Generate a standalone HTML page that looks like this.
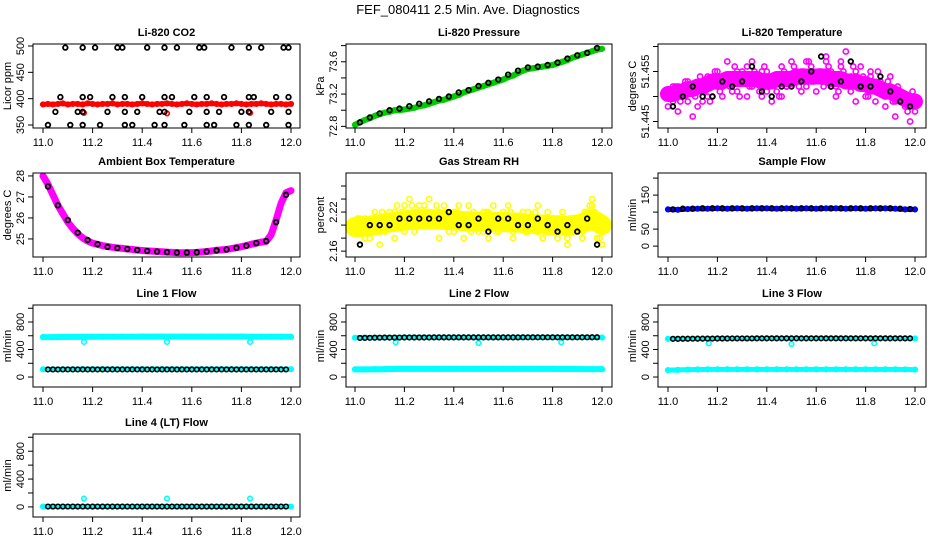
<!DOCTYPE html>
<html><head><meta charset="utf-8">
<style>
html,body{margin:0;padding:0;background:#fff;}
svg{display:block;font-family:"Liberation Sans",Arial,sans-serif;}
</style></head>
<body>
<svg id="chart" width="936" height="540" viewBox="0 0 936 540" xmlns="http://www.w3.org/2000/svg">
<text x="468" y="14" text-anchor="middle" font-size="13">FEF_080411  2.5 Min. Ave. Diagnostics</text>
</svg>
<script>
// ---- data ----
const tColor=[11.00,11.02,11.04,11.06,11.08,11.10,11.12,11.14,11.16,11.18,11.20,11.22,11.24,11.26,11.28,11.30,11.32,11.34,11.36,11.38,11.40,11.42,11.44,11.46,11.48,11.50,11.52,11.54,11.56,11.58,11.60,11.62,11.64,11.66,11.68,11.70,11.72,11.74,11.76,11.78,11.80,11.82,11.84,11.86,11.88,11.90,11.92,11.94,11.96,11.98,12.00];
const tColor2=[11.01,11.03,11.05,11.07,11.09,11.11,11.13,11.15,11.17,11.19,11.21,11.23,11.25,11.27,11.29,11.31,11.33,11.35,11.37,11.39,11.41,11.43,11.45,11.47,11.49,11.51,11.53,11.55,11.57,11.59,11.61,11.63,11.65,11.67,11.69,11.71,11.73,11.75,11.77,11.79,11.81,11.83,11.85,11.87,11.89,11.91,11.93,11.95,11.97,11.99];
const tBlack=[11.02,11.06,11.10,11.14,11.18,11.22,11.26,11.30,11.34,11.38,11.42,11.46,11.50,11.54,11.58,11.62,11.66,11.70,11.74,11.78,11.82,11.86,11.90,11.94,11.98];
const tFlow=[11.00,11.04,11.08,11.12,11.16,11.20,11.24,11.28,11.32,11.36,11.40,11.44,11.48,11.52,11.56,11.60,11.64,11.68,11.72,11.76,11.80,11.84,11.88,11.92,11.96,12.00];
const tFlowBlack=[11.02,11.04,11.06,11.08,11.10,11.12,11.14,11.16,11.18,11.20,11.22,11.24,11.26,11.28,11.30,11.32,11.34,11.36,11.38,11.40,11.42,11.44,11.46,11.48,11.50,11.52,11.54,11.56,11.58,11.60,11.62,11.64,11.66,11.68,11.70,11.72,11.74,11.76,11.78,11.80,11.82,11.84,11.86,11.88,11.90,11.92,11.94,11.96,11.98];
const tOut=[11.165,11.50,11.835];

const co2Red=[389,390,389,390,391,389,390,390,389,391,390,389,390,390,391,389,390,390,389,390,391,390,389,390,390,391,390,389,390,391,390,389,390,390,391,390,389,390,390,391,390,389,390,390,391,390,389,390,390,389,390];
const co2RedOut=[373,372,373];
const co2BlackT=[11.09,11.16,11.21,11.30,11.32,11.42,11.49,11.54,11.63,11.65,11.76,11.83,11.88,11.97,11.99,
11.07,11.16,11.19,11.28,11.33,11.40,11.49,11.52,11.61,11.66,11.73,11.83,11.85,11.94,11.99,
11.05,11.14,11.16,11.26,11.33,11.38,11.47,11.49,11.59,11.66,11.71,11.80,11.83,11.92,11.99,
11.02,11.11,11.16,11.23,11.33,11.36,11.45,11.49,11.57,11.66,11.69,11.78,11.83,11.90,11.99];
const co2BlackV=[497,497,497,497,497,497,497,497,497,497,497,497,497,497,497,
403,403,403,403,403,403,403,403,403,403,403,403,403,403,403,
375,375,375,375,375,375,375,375,375,375,375,375,375,375,375,
350,350,350,350,350,350,350,350,350,350,350,350,350,350,350];

const presGreen=[72.82,72.85,72.88,72.90,72.93,72.95,72.97,72.98,73.00,73.00,73.01,73.02,73.03,73.05,73.06,73.08,73.10,73.12,73.13,73.15,73.17,73.19,73.22,73.24,73.26,73.28,73.30,73.32,73.34,73.36,73.38,73.41,73.43,73.46,73.49,73.51,73.52,73.53,73.54,73.55,73.56,73.58,73.60,73.62,73.65,73.67,73.69,73.71,73.73,73.75,73.76];
const presBlack=[72.85,72.91,72.96,73.00,73.02,73.05,73.08,73.11,73.14,73.17,73.22,73.25,73.30,73.34,73.38,73.44,73.49,73.53,73.54,73.56,73.59,73.64,73.68,73.71,73.77];

const tempMean=[51.4505,51.4505,51.451,51.451,51.4515,51.4515,51.452,51.452,51.4525,51.453,51.453,51.453,51.4535,51.4535,51.4535,51.4535,51.4535,51.4535,51.4535,51.453,51.453,51.453,51.4535,51.4535,51.4535,51.4535,51.454,51.454,51.454,51.454,51.454,51.454,51.454,51.4535,51.4535,51.4535,51.453,51.453,51.453,51.4525,51.4525,51.452,51.452,51.4515,51.451,51.451,51.4505,51.450,51.4495,51.449,51.449];
const tempA=[51.451,51.449,51.452,51.450,51.453,51.451,51.448,51.452,51.450,51.453,51.455,51.452,51.454,51.451,51.455,51.453,51.456,51.452,51.454,51.450,51.455,51.453,51.451,51.456,51.452,51.454,51.453,51.455,51.452,51.456,51.454,51.453,51.457,51.455,51.452,51.456,51.454,51.451,51.455,51.453,51.452,51.454,51.451,51.453,51.450,51.452,51.449,51.451,51.448,51.450,51.447];
const tempB=[51.448,51.452,51.447,51.451,51.449,51.446,51.451,51.449,51.454,51.450,51.452,51.450,51.457,51.453,51.451,51.455,51.450,51.457,51.453,51.455,51.451,51.449,51.454,51.450,51.452,51.457,51.455,51.451,51.457,51.453,51.451,51.455,51.458,51.452,51.450,51.457,51.459,51.454,51.449,51.456,51.450,51.455,51.449,51.452,51.448,51.454,51.446,51.451,51.450,51.445,51.449];
const tempC=[51.450,51.452,51.449,51.453,51.451,51.450,51.454,51.452,51.449,51.455,51.451,51.454,51.452,51.456,51.450,51.454,51.452,51.455,51.451,51.456,51.452,51.454,51.450,51.455,51.453,51.456,51.452,51.455,51.457,51.453,51.455,51.452,51.456,51.454,51.451,51.455,51.453,51.456,51.452,51.454,51.450,51.453,51.455,51.451,51.453,51.449,51.452,51.450,51.447,51.451];
const tempBlack=[51.448,51.450,51.452,51.450,51.450,51.453,51.452,51.453,51.456,51.451,51.450,51.452,51.452,51.453,51.455,51.458,51.452,51.453,51.457,51.452,51.452,51.454,51.451,51.449,51.448];

const ambMag=[28.0,27.6,27.1,26.6,26.2,25.8,25.5,25.25,25.05,24.9,24.8,24.74,24.68,24.64,24.6,24.57,24.55,24.52,24.5,24.47,24.45,24.43,24.42,24.4,24.39,24.37,24.36,24.35,24.34,24.35,24.35,24.36,24.38,24.4,24.43,24.46,24.48,24.5,24.54,24.58,24.63,24.68,24.75,24.8,24.85,24.88,25.2,25.9,26.7,27.2,27.3];
const ambBlack=[27.5,26.6,25.9,25.3,24.95,24.75,24.62,24.57,24.52,24.47,24.43,24.40,24.37,24.35,24.35,24.36,24.40,24.45,24.50,24.58,24.68,24.80,24.90,25.80,27.10];

const rhMean=[2.197,2.197,2.198,2.199,2.200,2.201,2.203,2.204,2.205,2.206,2.207,2.208,2.208,2.209,2.209,2.209,2.209,2.209,2.208,2.208,2.207,2.207,2.206,2.206,2.205,2.205,2.205,2.205,2.205,2.205,2.205,2.204,2.204,2.204,2.203,2.202,2.202,2.201,2.201,2.200,2.200,2.199,2.199,2.199,2.200,2.201,2.203,2.206,2.208,2.205,2.200];
const rhA=[2.20,2.19,2.21,2.18,2.20,2.19,2.21,2.20,2.22,2.21,2.23,2.20,2.22,2.21,2.23,2.22,2.20,2.22,2.21,2.19,2.22,2.20,2.21,2.23,2.20,2.21,2.19,2.22,2.20,2.21,2.22,2.20,2.19,2.21,2.20,2.22,2.20,2.19,2.21,2.20,2.19,2.21,2.20,2.18,2.20,2.21,2.19,2.22,2.23,2.20,2.19];
const rhB=[2.19,2.21,2.18,2.20,2.22,2.17,2.19,2.22,2.18,2.20,2.19,2.24,2.19,2.23,2.20,2.24,2.21,2.18,2.23,2.22,2.19,2.23,2.18,2.21,2.22,2.19,2.22,2.18,2.23,2.19,2.20,2.23,2.18,2.20,2.22,2.19,2.21,2.23,2.18,2.22,2.21,2.18,2.22,2.17,2.19,2.21,2.18,2.21,2.24,2.18,2.17];
const rhC=[2.21,2.20,2.19,2.21,2.20,2.22,2.20,2.21,2.23,2.22,2.21,2.23,2.22,2.20,2.22,2.21,2.23,2.20,2.22,2.21,2.22,2.20,2.21,2.19,2.21,2.20,2.22,2.21,2.19,2.21,2.20,2.22,2.21,2.20,2.19,2.21,2.22,2.20,2.21,2.19,2.20,2.21,2.19,2.20,2.21,2.20,2.22,2.23,2.22,2.18];
const rhBlack=[2.17,2.20,2.20,2.20,2.21,2.21,2.21,2.21,2.21,2.22,2.20,2.20,2.21,2.19,2.21,2.21,2.20,2.20,2.21,2.20,2.19,2.20,2.19,2.21,2.17];

const sampBlue=[108,107,109,110,110,111,110,111,110,111,111,110,111,110,111,110,111,111,110,111,110,111,111,110,108,108];
const sampBlack=[108,110,110,111,111,111,111,111,111,111,111,111,111,111,111,111,111,111,111,111,111,111,111,110,109];

const l1High=[580,580,582,583,584,585,585,586,586,586,587,587,587,587,587,587,587,587,587,587,587,586,586,586,585,585];
const l1Low=[112,112,113,114,115,116,116,116,116,116,116,116,116,116,116,116,116,116,116,116,116,116,115,115,114,114];
const l1Black=[110,110,110,110,110,110,110,110,110,110,110,110,110,110,110,110,110,110,110,110,110,110,110,110,110,110,110,110,110,110,110,110,110,110,110,110,110,110,110,110,110,110,110,110,110,110,110,110,110];
const l1Out=[510,510,510];

const l2High=[572,572,573,574,575,576,576,576,577,577,577,577,577,577,577,577,577,577,577,577,577,577,576,576,575,575];
const l2Low=[112,112,113,114,116,118,118,118,118,118,118,118,118,118,118,118,118,118,118,118,118,117,116,115,114,114];
const l2Black=[568,569,570,571,572,573,573,574,574,575,575,575,575,575,575,576,576,576,576,576,576,576,576,576,576,576,576,576,576,576,576,576,576,577,577,577,577,577,577,577,577,577,577,577,577,577,577,578,578];
const l2Out=[505,495,505];

const l3High=[555,556,557,558,559,560,560,561,561,561,562,562,562,562,562,562,562,562,562,562,562,562,562,561,561,560];
const l3Low=[100,104,108,110,111,112,112,112,112,112,112,112,112,112,112,112,112,112,112,112,112,112,112,112,110,108];
const l3Black=[555,555,556,556,557,558,558,559,559,560,560,560,561,561,561,561,561,562,562,562,562,562,562,562,562,562,562,562,562,562,562,562,562,562,562,562,562,562,562,562,562,562,562,562,562,562,562,562,562];
const l3Out=[490,480,490];

const l4Cyan=[5,5,5,5,5,5,5,5,5,5,5,5,5,5,5,5,5,5,5,5,5,5,5,5,5,5];
const l4Black=[5,5,5,5,5,5,5,5,5,5,5,5,5,5,5,5,5,5,5,5,5,5,5,5,5,5,5,5,5,5,5,5,5,5,5,5,5,5,5,5,5,5,5,5,5,5,5,5,5];
const l4Out=[120,120,120];

const xTickVals=[11.0,11.2,11.4,11.6,11.8,12.0];
const xTickLabels=["11.0","11.2","11.4","11.6","11.8","12.0"];
const flowTicks=[0,200,400,600,800,1000];
const flowLabels=["0","","400","","800",""];

// ---- layout ----
const svg=document.getElementById('chart');
const NS='http://www.w3.org/2000/svg';
const cols=[{b0:33,b1:300,t0:43,t1:291},{b0:346,b1:612,t0:355,t1:602},{b0:658,b1:926,t0:668,t1:915}];
const rows=[{top:44,bot:128},{top:173,bot:257},{top:305,bot:387},{top:434,bot:517}];
const CYAN='#00ffff',MAG='#ff00ff',YEL='#ffff00',GRN='#00cc00',BLUE='#0000ff',RED='#ff0000';

function mk(tag,attrs,parent){const e=document.createElementNS(NS,tag);for(const k in attrs)e.setAttribute(k,attrs[k]);(parent||svg).appendChild(e);return e;}

function panel(cfg){
  const c=cols[cfg.col],r=rows[cfg.row];
  const g=mk('g',{});
  
  
  const xs=v=>c.t0+(v-11)*(c.t1-c.t0);
  const ys=v=>r.bot-(v-cfg.ylim[0])/(cfg.ylim[1]-cfg.ylim[0])*(r.bot-r.top);
  const title=mk('text',{x:(c.b0+c.b1)/2,y:r.top-8,'text-anchor':'middle','font-size':11,'font-weight':'bold'},g);
  title.textContent=cfg.title;
  
  
  // series first (clipped region), frame after
  cfg.series.forEach(s=>{
    const sg=mk('g',{},g);
    
    
    if(s.band){
      const pts=s.t.map((t,i)=>xs(t)+','+ys(s.v[i])).join(' ');
      mk('polyline',{points:pts,fill:'none',stroke:s.color,'stroke-width':s.band,'stroke-linejoin':'round','stroke-linecap':'round'},sg);
    }
    if(s.noPts) return;
    s.t.forEach((t,i)=>{
      const p=mk('circle',{cx:xs(t),cy:ys(s.v[i]),r:s.r||2.3,fill:'none',stroke:s.color,'stroke-width':s.sw||1.6},sg);
      
      
    });
  });
  const box=mk('rect',{x:c.b0,y:r.top,width:c.b1-c.b0,height:r.bot-r.top,fill:'none',stroke:'#000','stroke-width':1},g);
  
  
  xTickVals.forEach((v,i)=>{
    const x=xs(v);
    mk('line',{x1:x,x2:x,y1:r.bot,y2:r.bot+5,stroke:'#000'},g);
    const t=mk('text',{x:x,y:r.bot+18,'text-anchor':'middle','font-size':11},g);
    t.textContent=xTickLabels[i];
    
    
  });
  cfg.yticks.forEach((v,i)=>{
    const y=ys(v);
    mk('line',{x1:c.b0,x2:c.b0-5,y1:y,y2:y,stroke:'#000'},g);
    if(cfg.ylabels[i]){
      const t=mk('text',{x:0,y:0,'text-anchor':'middle','font-size':11,transform:`translate(${c.b0-9},${y}) rotate(-90)`},g);
      t.textContent=cfg.ylabels[i];
      
      
    }
  });
  const yl=mk('text',{x:0,y:0,'text-anchor':'middle','font-size':11,transform:`translate(${c.b0-22},${(r.top+r.bot)/2}) rotate(-90)`},g);
  yl.textContent=cfg.ylab;
  
  
}

panel({name:'panel-co2',col:0,row:0,title:'Li-820 CO2',ylab:'Licor ppm',ylim:[344.3,503.8],yticks:[350,400,450,500],ylabels:['350','400','450','500'],
 series:[{name:'co2-red',t:tColor,v:co2Red,color:RED,band:5},{name:'co2-red-outliers',t:tOut,v:co2RedOut,color:RED},{name:'co2-black',t:co2BlackT,v:co2BlackV,color:'#000',sw:1.8}]});
panel({name:'panel-pressure',col:1,row:0,title:'Li-820 Pressure',ylab:'kPa',ylim:[72.78,73.82],yticks:[72.8,73.0,73.2,73.4,73.6,73.8],ylabels:['72.8','','73.2','','73.6',''],
 series:[{name:'pressure-green',t:tColor,v:presGreen,color:GRN,band:6},{name:'pressure-black',t:tBlack,v:presBlack,color:'#000',sw:1.8}]});
panel({name:'panel-li820-temp',col:2,row:0,title:'Li-820 Temperature',ylab:'degrees C',ylim:[51.4437,51.4605],yticks:[51.445,51.450,51.455,51.460],ylabels:['51.445','','51.455',''],
 series:[{name:'temp-magenta-core',t:tColor,v:tempMean,color:MAG,band:16,noPts:true},{name:'temp-magenta-a',t:tColor,v:tempA,color:MAG,r:2.6},{name:'temp-magenta-b',t:tColor,v:tempB,color:MAG,r:2.6},{name:'temp-magenta-c',t:tColor2,v:tempC,color:MAG,r:2.6},{name:'temp-black',t:tBlack,v:tempBlack,color:'#000',sw:1.8}]});
panel({name:'panel-ambient-temp',col:0,row:1,title:'Ambient Box Temperature',ylab:'degrees C',ylim:[24.14,28.14],yticks:[25,26,27,28],ylabels:['25','26','27','28'],
 series:[{name:'ambient-magenta',t:tColor,v:ambMag,color:MAG,band:7},{name:'ambient-black',t:tBlack,v:ambBlack,color:'#000',sw:1.8}]});
panel({name:'panel-rh',col:1,row:1,title:'Gas Stream RH',ylab:'percent',ylim:[2.151,2.28],yticks:[2.16,2.18,2.20,2.22,2.24,2.26],ylabels:['2.16','','','2.22','',''],
 series:[{name:'rh-yellow-core',t:tColor,v:rhMean,color:YEL,band:20,noPts:true},{name:'rh-yellow-a',t:tColor,v:rhA,color:YEL,r:2.6},{name:'rh-yellow-b',t:tColor,v:rhB,color:YEL,r:2.6},{name:'rh-yellow-c',t:tColor2,v:rhC,color:YEL,r:2.6},{name:'rh-black',t:tBlack,v:rhBlack,color:'#000',sw:1.8}]});
panel({name:'panel-sample-flow',col:2,row:1,title:'Sample Flow',ylab:'ml/min',ylim:[-32,215],yticks:[0,50,100,150,200],ylabels:['0','50','','150',''],
 series:[{name:'sample-blue',t:tFlow,v:sampBlue,color:BLUE,band:5},{name:'sample-black',t:tBlack,v:sampBlack,color:'#000',sw:1.8}]});
panel({name:'panel-line1',col:0,row:2,title:'Line 1 Flow',ylab:'ml/min',ylim:[-145,1047],yticks:flowTicks,ylabels:flowLabels,
 series:[{name:'line1-cyan-high',t:tFlow,v:l1High,color:CYAN,band:6},{name:'line1-cyan-low',t:tFlow,v:l1Low,color:CYAN,band:5},{name:'line1-cyan-outliers',t:tOut,v:l1Out,color:CYAN},{name:'line1-black',t:tFlowBlack,v:l1Black,color:'#000',sw:1.6}]});
panel({name:'panel-line2',col:1,row:2,title:'Line 2 Flow',ylab:'ml/min',ylim:[-145,1047],yticks:flowTicks,ylabels:flowLabels,
 series:[{name:'line2-cyan-high',t:tFlow,v:l2High,color:CYAN,band:5},{name:'line2-cyan-low',t:tFlow,v:l2Low,color:CYAN,band:6},{name:'line2-cyan-outliers',t:tOut,v:l2Out,color:CYAN},{name:'line2-black',t:tFlowBlack,v:l2Black,color:'#000',sw:1.6}]});
panel({name:'panel-line3',col:2,row:2,title:'Line 3 Flow',ylab:'ml/min',ylim:[-145,1047],yticks:flowTicks,ylabels:flowLabels,
 series:[{name:'line3-cyan-high',t:tFlow,v:l3High,color:CYAN,band:4},{name:'line3-cyan-low',t:tFlow,v:l3Low,color:CYAN,band:5},{name:'line3-cyan-outliers',t:tOut,v:l3Out,color:CYAN},{name:'line3-black',t:tFlowBlack,v:l3Black,color:'#000',sw:1.6}]});
panel({name:'panel-line4',col:0,row:3,title:'Line 4 (LT) Flow',ylab:'ml/min',ylim:[-145,1047],yticks:flowTicks,ylabels:flowLabels,
 series:[{name:'line4-cyan',t:tFlow,v:l4Cyan,color:CYAN,band:5},{name:'line4-cyan-outliers',t:tOut,v:l4Out,color:CYAN},{name:'line4-black',t:tFlowBlack,v:l4Black,color:'#000',sw:1.6}]});
</script>
</body></html>
